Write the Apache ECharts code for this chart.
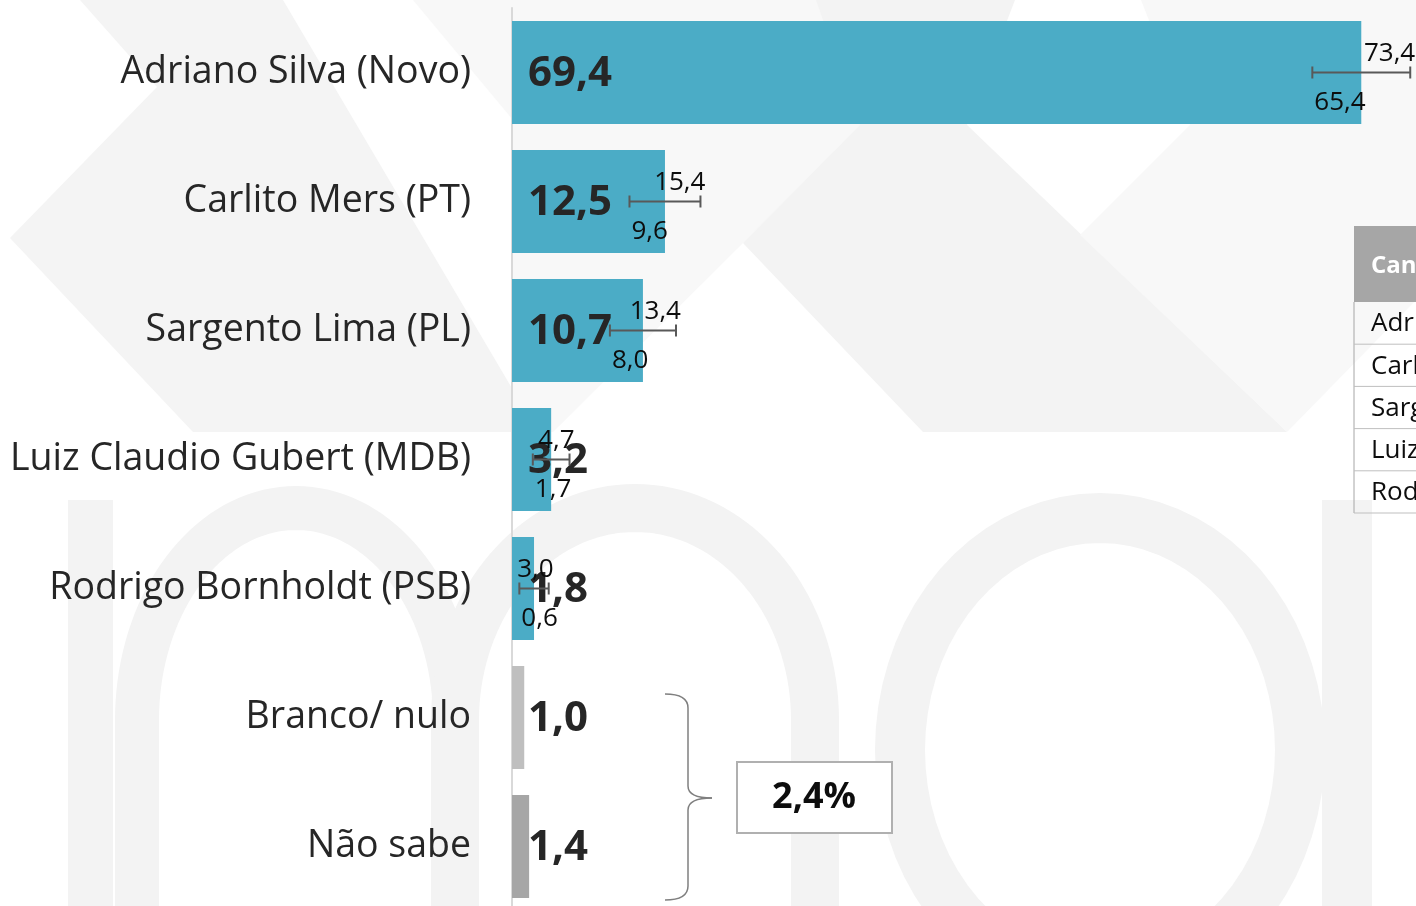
<!DOCTYPE html>
<html>
<head>
<meta charset="utf-8">
<title>Intenção de voto</title>
<script src="https://cdn.jsdelivr.net/npm/echarts@6/dist/echarts.min.js"></script>
<style>
    html, body { margin: 0; padding: 0; background: #fff; }
    #main { width: 1416px; height: 906px; }
</style>
</head>
<body>
<div id="main"></div>
<script type="text/javascript">
    // dados
    var candidatos = ['Adriano Silva (Novo)', 'Carlito Mers (PT)', 'Sargento Lima (PL)', 'Luiz Claudio Gubert (MDB)', 'Rodrigo Bornholdt (PSB)', 'Branco/ nulo', 'Não sabe'];
    var valores = [69.4, 12.5, 10.7, 3.2, 1.8, 1.0, 1.4];
    var minimos = [65.4, 9.6, 8.0, 1.7, 0.6, null, null];
    var maximos = [73.4, 15.4, 13.4, 4.7, 3.0, null, null];
    var cores = ['#4bacc6', '#4bacc6', '#4bacc6', '#4bacc6', '#4bacc6', '#bfbfbf', '#a6a6a6'];
    var totalIndefinidos = '2,4%';
    var tabelaTitulo = 'Candidato';
    var tabelaLinhas = ['Adriano Silva', 'Carlito Mers', 'Sargento Lima', 'Luiz Claudio Gubert', 'Rodrigo Bornholdt'];

    var fonte = '"Open Sans", Lato, sans-serif';
    function virgula(v) { return v.toFixed(1).replace('.', ','); }

    // pontos de um arco de elipse (graus, 0 = direita, 180 = esquerda)
    function arco(cx, cy, rx, ry, a0, a1) {
        var pts = [], n = 72;
        for (var k = 0; k <= n; k++) {
            var t = (a0 + (a1 - a0) * k / n) * Math.PI / 180;
            pts.push([cx + rx * Math.cos(t), cy - ry * Math.sin(t)]);
        }
        return pts;
    }

    var myChart = echarts.init(document.getElementById('main'));

    // marca d'água ao fundo
    var fundo = '#f3f3f3';
    var claro = '#f8f8f8';
    var perna = function (x) { return [[x, 906]]; };
    var arco1 = perna(137).concat(arco(296, 720, 159, 212, 180, 0), perna(455));
    var arco2 = perna(455).concat(arco(635, 720, 180, 212, 180, 0), perna(815));
    var anel = arco(1100, 750, 200, 232, 0, 360);
    var marca = [
        { type: 'polygon', shape: { points: [[80, 0], [283, 0], [513, 390], [513, 432], [193, 432], [10, 238], [157, 87]] }, style: { fill: '#f4f4f4' } },
        { type: 'polygon', shape: { points: [[413, 0], [513, 0], [513, 120]] }, style: { fill: claro } },
        { type: 'polygon', shape: { points: [[513, 0], [816, 0], [913, 72], [743, 243], [553, 432], [513, 432]] }, style: { fill: claro } },
        { type: 'polygon', shape: { points: [[816, 0], [1015, 0], [967, 125], [1287, 432], [923, 432], [743, 243], [860, 125]] }, style: { fill: fundo } },
        { type: 'polygon', shape: { points: [[1141, 0], [1416, 0], [1416, 300], [1287, 432], [1080, 235], [1190, 125]] }, style: { fill: claro } },
        { type: 'rect', shape: { x: 68, y: 500, width: 45, height: 406 }, style: { fill: fundo } },
        { type: 'polyline', shape: { points: arco1 }, style: { stroke: fundo, lineWidth: 44 } },
        { type: 'polyline', shape: { points: arco2 }, style: { stroke: fundo, lineWidth: 48 } },
        { type: 'polygon', shape: { points: anel }, style: { fill: null, stroke: fundo, lineWidth: 50 } },
        { type: 'rect', shape: { x: 1322, y: 500, width: 50, height: 406 }, style: { fill: fundo } }
    ];

    // chave e caixa do total
    var traco = { stroke: '#7f7f7f', lineWidth: 1.5, fill: null };
    var anotacoes = [
        { type: 'bezierCurve', shape: { x1: 665, y1: 694, cpx1: 688, cpy1: 694, x2: 688, y2: 708 }, style: traco },
        { type: 'line', shape: { x1: 688, y1: 708, x2: 688, y2: 786 }, style: traco },
        { type: 'bezierCurve', shape: { x1: 688, y1: 786, cpx1: 688, cpy1: 798, x2: 712, y2: 798 }, style: traco },
        { type: 'bezierCurve', shape: { x1: 712, y1: 798, cpx1: 688, cpy1: 798, x2: 688, y2: 810 }, style: traco },
        { type: 'line', shape: { x1: 688, y1: 810, x2: 688, y2: 886 }, style: traco },
        { type: 'bezierCurve', shape: { x1: 688, y1: 886, cpx1: 688, cpy1: 900, x2: 665, y2: 900 }, style: traco },
        { type: 'rect', shape: { x: 737, y: 762, width: 155, height: 71 }, style: { fill: '#fff', stroke: '#b0b0b0', lineWidth: 2 } },
        { type: 'text', x: 814, y: 798, style: { text: totalIndefinidos, font: 'bold 36px ' + fonte, fill: '#0d0d0d', align: 'center', verticalAlign: 'middle' } }
    ];

    // tabela cortada à direita
    var tabela = [
        { type: 'rect', shape: { x: 1354, y: 226, width: 80, height: 76 }, style: { fill: '#a6a6a6' } },
        { type: 'text', x: 1371, y: 266, style: { text: tabelaTitulo, font: 'bold 24px ' + fonte, fill: '#fff', verticalAlign: 'middle' } },
        { type: 'line', shape: { x1: 1354, y1: 302, x2: 1354, y2: 513 }, style: { stroke: '#a6a6a6', lineWidth: 1 } }
    ];
    tabelaLinhas.forEach(function (nome, i) {
        var y0 = 302 + i * 42.2;
        tabela.push({ type: 'line', shape: { x1: 1354, y1: y0 + 42.2, x2: 1416, y2: y0 + 42.2 }, style: { stroke: '#bfbfbf', lineWidth: 1 } });
        tabela.push({ type: 'text', x: 1371, y: y0 + 22, style: { text: nome, font: '26px ' + fonte, fill: '#0d0d0d', verticalAlign: 'middle' } });
    });

    var option = {
        backgroundColor: '#fff',
        animation: false,
        graphic: marca.concat(anotacoes, tabela),
        grid: { left: 512, top: 8, width: 979, height: 903, containLabel: false, outerBoundsMode: 'none' },
        xAxis: {
            type: 'value', min: 0, max: 80,
            show: false, splitLine: { show: false }
        },
        yAxis: {
            type: 'category',
            inverse: true,
            data: candidatos,
            axisLine: { show: true, lineStyle: { color: '#d9d9d9', width: 2 } },
            axisTick: { show: false },
            axisLabel: { fontFamily: fonte, fontSize: 37.5, color: '#262626', margin: 41 }
        },
        series: [
            {
                type: 'bar',
                barWidth: 103,
                data: valores.map(function (v, i) { return { value: v, itemStyle: { color: cores[i] } }; }),
                label: {
                    show: true,
                    position: 'insideLeft',
                    distance: 16,
                    offset: [0, 2],
                    fontFamily: fonte,
                    fontWeight: 'bold',
                    fontSize: 42,
                    color: '#262626',
                    formatter: function (p) { return virgula(p.value); }
                },
                z: 2
            },
            {
                type: 'custom',
                z: 3,
                data: candidatos.map(function (c, i) { return [i, minimos[i], maximos[i]]; }),
                renderItem: function (params, api) {
                    var lo = api.value(1), hi = api.value(2);
                    if (lo == null || hi == null || isNaN(lo) || isNaN(hi)) { return; }
                    var idx = api.value(0);
                    var a = api.coord([lo, idx]);
                    var b = api.coord([hi, idx]);
                    var cor = '#595959';
                    return {
                        type: 'group',
                        children: [
                            { type: 'line', shape: { x1: a[0], y1: a[1], x2: b[0], y2: b[1] }, style: { stroke: cor, lineWidth: 2 } },
                            { type: 'line', shape: { x1: a[0], y1: a[1] - 6, x2: a[0], y2: a[1] + 6 }, style: { stroke: cor, lineWidth: 2 } },
                            { type: 'line', shape: { x1: b[0], y1: b[1] - 6, x2: b[0], y2: b[1] + 6 }, style: { stroke: cor, lineWidth: 2 } },
                            { type: 'text', x: b[0] + 5, y: b[1] - 19, style: { text: virgula(hi), font: '26px ' + fonte, fill: '#0d0d0d', align: 'right', verticalAlign: 'middle' } },
                            { type: 'text', x: a[0] + 2, y: a[1] + 30, style: { text: virgula(lo), font: '26px ' + fonte, fill: '#0d0d0d', align: 'left', verticalAlign: 'middle' } }
                        ]
                    };
                }
            }
        ]
    };
    myChart.setOption(option);
</script>
</body>
</html>
